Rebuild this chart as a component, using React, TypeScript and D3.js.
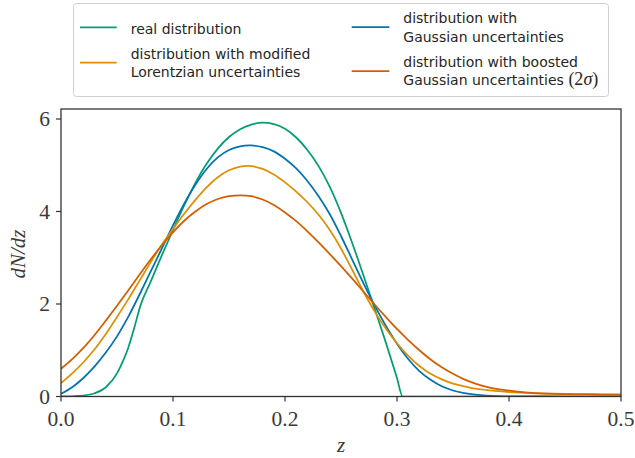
import React from "react";
import * as d3 from "d3";

// Redshift grid (z) and dN/dz for each distribution
const zReal = [0, 0.01, 0.02, 0.03, 0.04, 0.05, 0.055, 0.06, 0.065, 0.071, 0.08, 0.09, 0.1, 0.11, 0.12, 0.13, 0.14, 0.15, 0.16, 0.17, 0.18, 0.19, 0.2, 0.21, 0.22, 0.23, 0.24, 0.25, 0.26, 0.27, 0.28, 0.29, 0.3, 0.305, 0.35, 0.4, 0.45, 0.5];
const realValues = [0, 0.005, 0.02, 0.07, 0.2, 0.5, 0.75, 1.05, 1.45, 1.97, 2.48, 3.05, 3.6, 4.13, 4.62, 5.03, 5.36, 5.61, 5.78, 5.88, 5.92, 5.89, 5.79, 5.6, 5.33, 4.98, 4.53, 3.97, 3.32, 2.62, 1.9, 1.17, 0.4, 0, 0, 0, 0, 0];

const zGauss = [0, 0.01, 0.02, 0.03, 0.04, 0.05, 0.06, 0.07, 0.08, 0.09, 0.1, 0.11, 0.12, 0.13, 0.14, 0.15, 0.16, 0.17, 0.18, 0.19, 0.2, 0.21, 0.22, 0.23, 0.24, 0.25, 0.26, 0.27, 0.28, 0.29, 0.3, 0.31, 0.32, 0.33, 0.34, 0.35, 0.36, 0.37, 0.38, 0.39, 0.4, 0.45, 0.5];
const gaussValues = [0.06, 0.2, 0.4, 0.65, 0.95, 1.3, 1.72, 2.2, 2.7, 3.2, 3.7, 4.17, 4.58, 4.92, 5.17, 5.33, 5.41, 5.43, 5.39, 5.3, 5.14, 4.93, 4.66, 4.33, 3.94, 3.47, 2.96, 2.45, 1.97, 1.53, 1.14, 0.81, 0.55, 0.36, 0.22, 0.13, 0.075, 0.04, 0.02, 0.01, 0.005, 0, 0];

const zLorentz = [0, 0.01, 0.02, 0.03, 0.04, 0.05, 0.06, 0.07, 0.08, 0.09, 0.1, 0.11, 0.12, 0.13, 0.14, 0.15, 0.16, 0.17, 0.18, 0.19, 0.2, 0.21, 0.22, 0.23, 0.24, 0.25, 0.26, 0.27, 0.28, 0.29, 0.3, 0.31, 0.32, 0.33, 0.34, 0.35, 0.36, 0.37, 0.38, 0.39, 0.4, 0.42, 0.44, 0.47, 0.5];
const lorentzValues = [0.29, 0.5, 0.74, 1.02, 1.35, 1.72, 2.1, 2.5, 2.9, 3.28, 3.62, 3.95, 4.25, 4.52, 4.74, 4.89, 4.97, 4.98, 4.92, 4.8, 4.63, 4.43, 4.2, 3.93, 3.6, 3.2, 2.74, 2.27, 1.84, 1.47, 1.15, 0.88, 0.66, 0.49, 0.37, 0.28, 0.22, 0.17, 0.14, 0.115, 0.095, 0.072, 0.06, 0.05, 0.043];

const zBoosted = [0, 0.01, 0.02, 0.03, 0.04, 0.05, 0.06, 0.07, 0.08, 0.09, 0.1, 0.11, 0.12, 0.13, 0.14, 0.15, 0.16, 0.17, 0.18, 0.19, 0.2, 0.21, 0.22, 0.23, 0.24, 0.25, 0.26, 0.27, 0.28, 0.29, 0.3, 0.31, 0.32, 0.33, 0.34, 0.35, 0.36, 0.37, 0.38, 0.39, 0.4, 0.42, 0.44, 0.47, 0.5];
const boostedValues = [0.6, 0.81, 1.05, 1.33, 1.64, 1.96, 2.29, 2.63, 2.96, 3.27, 3.55, 3.8, 4.0, 4.16, 4.27, 4.33, 4.35, 4.33, 4.26, 4.14, 3.98, 3.79, 3.57, 3.33, 3.08, 2.82, 2.55, 2.27, 1.99, 1.72, 1.46, 1.22, 1.0, 0.8, 0.63, 0.49, 0.37, 0.28, 0.21, 0.16, 0.125, 0.08, 0.058, 0.045, 0.04];

const xTicks = [0, 0.1, 0.2, 0.3, 0.4, 0.5];
const yTicks = [0, 2, 4, 6];

const seriesNames = [
  "real distribution",
  "distribution with Gaussian uncertainties",
  "distribution with modified Lorentzian uncertainties",
  "distribution with boosted Gaussian uncertainties (2σ)",
];
const seriesColors = ["#029E73", "#0173B2", "#DE8F05", "#D55E00"];

const W = 635;
const H = 458;
const left = 61;
const right = 621;
const top = 109;
const bottom = 396.5;

const serif = "'Liberation Serif', 'DejaVu Serif', serif";
const sans = "'DejaVu Sans', sans-serif";

export default function App() {
  const x = d3.scaleLinear().domain([0, 0.5]).range([left, right]);
  const y = d3.scaleLinear().domain([0, 6.216]).range([bottom, top]);

  // the real distribution has a hard cut-off, so keep it monotone; the smeared ones are smooth
  const sharpLine = d3
    .line<[number, number]>()
    .x((d) => x(d[0]))
    .y((d) => y(d[1]))
    .curve(d3.curveMonotoneX);
  const smoothLine = d3
    .line<[number, number]>()
    .x((d) => x(d[0]))
    .y((d) => y(d[1]))
    .curve(d3.curveCatmullRom.alpha(0.5));

  const series = [
    { name: seriesNames[0], color: seriesColors[0], gen: sharpLine, pts: zReal.map((z, i) => [z, realValues[i]] as [number, number]) },
    { name: seriesNames[1], color: seriesColors[1], gen: smoothLine, pts: zGauss.map((z, i) => [z, gaussValues[i]] as [number, number]) },
    { name: seriesNames[2], color: seriesColors[2], gen: smoothLine, pts: zLorentz.map((z, i) => [z, lorentzValues[i]] as [number, number]) },
    { name: seriesNames[3], color: seriesColors[3], gen: smoothLine, pts: zBoosted.map((z, i) => [z, boostedValues[i]] as [number, number]) },
  ];

  const tickColor = "#333";
  const labelColor = "#3a3a3a";
  const legendText = "#262626";
  const lfs = 14;

  return (
    <svg
      width={W}
      height={H}
      viewBox={`0 0 ${W} ${H}`}
      style={{ position: "absolute", left: 0, top: 0, display: "block", background: "#fff" }}
    >
      <defs>
        <clipPath id="plot-clip">
          <rect x={left} y={top} width={right - left} height={bottom - top} />
        </clipPath>
      </defs>

      {/* curves (drawn below the spines) */}
      <g clipPath="url(#plot-clip)">
        {series.map((s) => (
          <path key={s.name} d={s.gen(s.pts) ?? ""} fill="none" stroke={s.color} strokeWidth={1.75} strokeLinejoin="round" />
        ))}
      </g>

      {/* spines */}
      <rect x={left} y={top} width={right - left} height={bottom - top} fill="none" stroke={tickColor} strokeWidth={1.3} />

      {/* x ticks */}
      {xTicks.map((t) => (
        <g key={`x${t}`}>
          <line x1={x(t)} x2={x(t)} y1={bottom} y2={bottom + 5} stroke={tickColor} strokeWidth={1.2} />
          <text x={x(t)} y={425.5} textAnchor="middle" fontFamily={serif} fontSize={21.5} fill={labelColor}>
            {t.toFixed(1)}
          </text>
        </g>
      ))}

      {/* y ticks */}
      {yTicks.map((t) => (
        <g key={`y${t}`}>
          <line x1={left - 5} x2={left} y1={y(t)} y2={y(t)} stroke={tickColor} strokeWidth={1.2} />
          <text x={50} y={y(t) + 7.3} textAnchor="end" fontFamily={serif} fontSize={21.5} fill={labelColor}>
            {t}
          </text>
        </g>
      ))}

      {/* axis labels */}
      <text x={341} y={452} textAnchor="middle" fontFamily={serif} fontStyle="italic" fontSize={21} fill={labelColor}>
        z
      </text>
      <text
        transform={`translate(25,254) rotate(-90)`}
        textAnchor="middle"
        fontFamily={serif}
        fontStyle="italic"
        fontSize={21}
        fill={labelColor}
      >
        dN/dz
      </text>

      {/* legend */}
      <rect x={73.5} y={3.5} width={535} height={93} rx={3} ry={3} fill="#fff" fillOpacity={0.8} stroke="#d0d0d0" strokeWidth={1} />

      <line x1={80} x2={116.7} y1={27.3} y2={27.3} stroke={seriesColors[0]} strokeWidth={1.75} />
      <text x={130.7} y={34.3} fontFamily={sans} fontSize={lfs} fill={legendText}>real distribution</text>

      <line x1={80} x2={116.7} y1={62.7} y2={62.7} stroke={seriesColors[2]} strokeWidth={1.75} />
      <text x={130.7} y={58.5} fontFamily={sans} fontSize={lfs} fill={legendText}>distribution with modified</text>
      <text x={130.7} y={76.9} fontFamily={sans} fontSize={lfs} fill={legendText}>Lorentzian uncertainties</text>

      <line x1={351.7} x2={389.3} y1={27} y2={27} stroke={seriesColors[1]} strokeWidth={1.75} />
      <text x={403.3} y={23.3} fontFamily={sans} fontSize={lfs} fill={legendText}>distribution with</text>
      <text x={403.3} y={41.7} fontFamily={sans} fontSize={lfs} fill={legendText}>Gaussian uncertainties</text>

      <line x1={351.7} x2={389.3} y1={71} y2={71} stroke={seriesColors[3]} strokeWidth={1.75} />
      <text x={403.3} y={66.8} fontFamily={sans} fontSize={lfs} fill={legendText}>distribution with boosted</text>
      <text x={403.3} y={85.2} fontFamily={sans} fontSize={lfs} fill={legendText}>
        Gaussian uncertainties{" "}
        <tspan fontFamily={serif} fontSize={18}>(2</tspan>
        <tspan fontFamily={serif} fontSize={18} fontStyle="italic">σ</tspan>
        <tspan fontFamily={serif} fontSize={18}>)</tspan>
      </text>
    </svg>
  );
}
